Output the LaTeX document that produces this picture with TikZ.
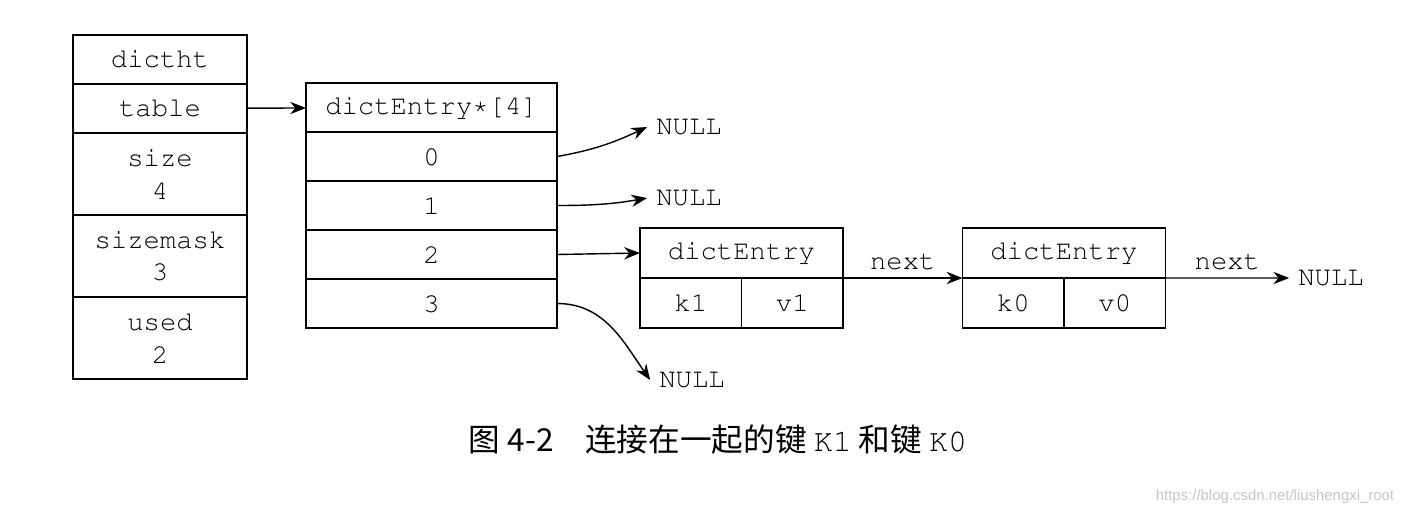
\documentclass[tikz,border=0pt]{standalone}
\usepackage[T1,TU]{fontenc}
\usepackage{fontspec}
\setsansfont{Liberation Sans}
\newfontfamily\cjk{Noto Sans CJK SC}
\newcommand\cour{\fontencoding{T1}\fontfamily{pcr}\selectfont}
\usetikzlibrary{positioning,arrows.meta}

\begin{document}
\begin{tikzpicture}[
		cell/.style={draw,line width=1pt,outer sep=0pt,inner sep=0pt,minimum height=0.98cm,align=center,font=\cour\fontsize{15.5}{18.7}\selectfont},
		lbl/.style={inner sep=2pt,font=\cour\fontsize{15.5}{18}\selectfont},
		nul/.style={lbl,inner sep=5pt},
		ptr/.style={-{Stealth[length=9pt,width=7pt]},line width=0.8pt}
	]
			\useasboundingbox (0,0) rectangle (28.16,10.32);
			\node[cell,minimum width=3.48cm] (dictht) at (3.20,9.13) {dictht};
			\node[cell,minimum width=3.48cm,below=0pt of dictht] (table) {table};
			\node[cell,minimum width=3.48cm,minimum height=1.64cm,below=0pt of table] (size) {size\\4};
			\node[cell,minimum width=3.48cm,minimum height=1.64cm,below=0pt of size] (sizemask) {sizemask\\3};
			\node[cell,minimum width=3.48cm,minimum height=1.64cm,below=0pt of sizemask] (used) {used\\2};
			
			\node[cell,minimum width=5.02cm] (arr) at (8.63,8.17) {dictEntry*[4]};
			\node[cell,minimum width=5.02cm,below=0pt of arr] (e0) {0};
			\foreach \i [count=\j from 0] in {1,2,3}
				\node[cell,minimum width=5.02cm,below=0pt of e\j] (e\i) {\i};
			
			\node[cell,minimum width=4.06cm,minimum height=1cm] (ent1) at (14.83,5.26) {dictEntry};
			\node[cell,minimum width=2.03cm,minimum height=1cm,anchor=north west] (k1) at (ent1.south west) {k1};
			\node[cell,minimum width=2.03cm,minimum height=1cm,anchor=north east] (v1) at (ent1.south east) {v1};
			\node[cell,minimum width=4.06cm,minimum height=1cm] (ent0) at (21.28,5.26) {dictEntry};
			\node[cell,minimum width=2.03cm,minimum height=1cm,anchor=north west] (k0) at (ent0.south west) {k0};
			\node[cell,minimum width=2.03cm,minimum height=1cm,anchor=north east] (v0) at (ent0.south east) {v0};
			
			\node[nul] (null0) at (13.78,7.78) {NULL};
			\node[nul] (null1) at (13.78,6.36) {NULL};
			\node[nul] (null3) at (13.84,2.72) {NULL};
			\node[nul] (nullk0) at (26.62,4.76) {NULL};
			
			\draw[ptr] (table) -- (arr);
			\draw[ptr] (e0.east) to[out=10,in=205] (null0.west);
			\draw[ptr] (e1.east) to[out=0,in=190] (null1.west);
			\draw[ptr] (e2.east) -- (ent1.west);
			\draw[ptr] (e3.east) to[out=0,in=125] (null3.west);
			\draw[ptr] (v1.north east) -- node[lbl,above=2pt]{next} (k0.north west);
			\draw[ptr] (v0.north east) -- node[lbl,above=2pt]{next} (nullk0.west);
			
			\node[font=\cjk\fontsize{18}{21}\selectfont] (caption) at (14.36,1.52) {图 4-2\quad 连接在一起的键 {\cour K1} 和键 {\cour K0}};
			\node[font=\sffamily\fontsize{8.5}{10}\selectfont,text=gray!45] (mark) at (25.5,0.38) {https://blog.csdn.net/liushengxi\_root};
		\end{tikzpicture}
\end{document}
